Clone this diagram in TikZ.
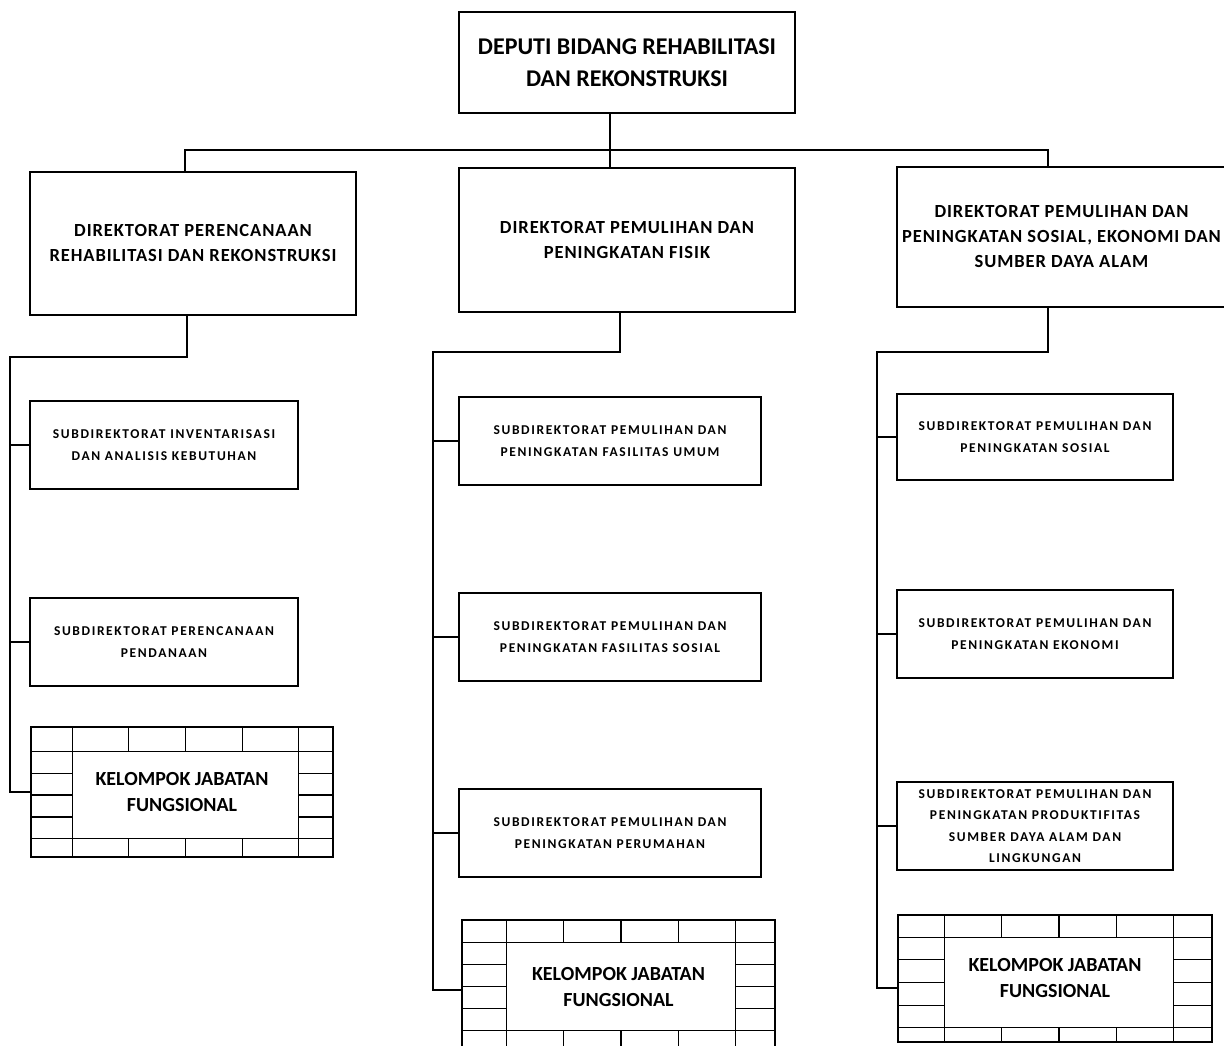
\documentclass[tikz,border=0pt]{standalone}
\usepackage{fontspec}
\setmainfont{Carlito}
\newfontfamily\dirfont[LetterSpace=5]{Carlito}
\newfontfamily\subfont[LetterSpace=12]{Carlito}
\usetikzlibrary{calc}
\tikzset{
  x=1pt, y=-1pt,
  orgbox/.style={draw, line width=1.8pt, align=center, inner sep=0pt, font=\bfseries},
  titlebox/.style={orgbox, font=\bfseries\fontsize{24}{32}\selectfont},
  dirbox/.style={orgbox, font=\dirfont\bfseries\fontsize{18.5}{25}\selectfont},
  subbox/.style={orgbox, line width=1.6pt, font=\subfont\bfseries\fontsize{13.5}{22}\selectfont},
  kjfbox/.style={orgbox, line width=1.8pt, font=\bfseries\fontsize{20}{26}\selectfont},
  conn/.style={line width=1.6pt},
  gridline/.style={line width=1.1pt}
}
\newcommand\kjfgrid[5]{%
  \coordinate (#1ITL) at ($(#1.north west)+(#2,#4)$);
  \coordinate (#1ITR) at ($(#1.north east)+(-#3,#4)$);
  \coordinate (#1IBL) at ($(#1.south west)+(#2,-#5)$);
  \coordinate (#1IBR) at ($(#1.south east)+(-#3,-#5)$);
  \draw[gridline] (#1ITL -| #1.west) -- (#1ITR -| #1.east);
  \draw[gridline] (#1IBL -| #1.west) -- (#1IBR -| #1.east);
  \draw[gridline] (#1ITL |- #1.north) -- (#1IBL |- #1.south);
  \draw[gridline] (#1ITR |- #1.north) -- (#1IBR |- #1.south);
  \foreach \k in {1,2,3}{
    \coordinate (#1t\k) at ($(#1ITL)!\k/4!(#1ITR)$);
    \coordinate (#1b\k) at ($(#1IBL)!\k/4!(#1IBR)$);
    \coordinate (#1l\k) at ($(#1ITL)!\k/4!(#1IBL)$);
    \coordinate (#1r\k) at ($(#1ITR)!\k/4!(#1IBR)$);
    \draw[gridline] (#1t\k) -- (#1t\k |- #1.north);
    \draw[gridline] (#1b\k) -- (#1b\k |- #1.south);
    \draw[gridline] (#1l\k) -- (#1l\k -| #1.west);
    \draw[gridline] (#1r\k) -- (#1r\k -| #1.east);
  }
}
\begin{document}
\begin{tikzpicture}
\useasboundingbox[fill=white] (0,0) rectangle (1224,1046);

% top
\node[titlebox, minimum width=336pt, minimum height=101pt] (top) at (627,62.5)
  {DEPUTI BIDANG REHABILITASI\\DAN REKONSTRUKSI};

% directors
\node[dirbox, minimum width=326pt, minimum height=143pt] (dl) at (193,243.5)
  {DIREKTORAT PERENCANAAN\\REHABILITASI DAN REKONSTRUKSI};
\node[dirbox, minimum width=336pt, minimum height=144pt] (dm) at (627,240)
  {DIREKTORAT PEMULIHAN DAN\\PENINGKATAN FISIK};
\node[dirbox, minimum width=329pt, minimum height=140pt] (dr) at (1061.5,237)
  {DIREKTORAT PEMULIHAN DAN\\PENINGKATAN SOSIAL, EKONOMI DAN\\SUMBER DAYA ALAM};

% bus
\coordinate (topout) at (610,113);
\coordinate (busm) at (610,150);
\coordinate (busl) at (185,150);
\coordinate (busr) at (1048,150);
\draw[conn] (topout) -- (busm) -- (busm |- dm.north);
\draw[conn] (busl |- dl.north) -- (busl) -- (busr) -- (busr |- dr.north);

% left column
\node[subbox, minimum width=268pt, minimum height=88pt] (l1) at (164,445)
  {SUBDIREKTORAT INVENTARISASI\\DAN ANALISIS KEBUTUHAN};
\node[subbox, minimum width=268pt, minimum height=88pt] (l2) at (164,642)
  {SUBDIREKTORAT PERENCANAAN\\PENDANAAN};
\node[kjfbox, minimum width=302pt, minimum height=130pt] (lk) at (182,792)
  {KELOMPOK JABATAN\\FUNGSIONAL};
\kjfgrid{lk}{42}{35}{25}{19}

\coordinate (ldrop) at (187,315);
\coordinate (lbend) at (187,357);
\coordinate (ltrunk) at (10,357);
\draw[conn] (ldrop) -- (lbend) -- (ltrunk) -- (ltrunk |- lk.west) -- (lk.west);
\draw[conn] (ltrunk |- l1.west) -- (l1.west);
\draw[conn] (ltrunk |- l2.west) -- (l2.west);

% middle column
\node[subbox, minimum width=302pt, minimum height=88pt] (m1) at (610,441)
  {SUBDIREKTORAT PEMULIHAN DAN\\PENINGKATAN FASILITAS UMUM};
\node[subbox, minimum width=302pt, minimum height=88pt] (m2) at (610,637)
  {SUBDIREKTORAT PEMULIHAN DAN\\PENINGKATAN FASILITAS SOSIAL};
\node[subbox, minimum width=302pt, minimum height=88pt] (m3) at (610,833)
  {SUBDIREKTORAT PEMULIHAN DAN\\PENINGKATAN PERUMAHAN};
\node[kjfbox, minimum width=313pt, minimum height=134pt] (mk) at (618.5,987)
  {KELOMPOK JABATAN\\FUNGSIONAL};
\kjfgrid{mk}{45}{40}{23}{24}

\coordinate (mdrop) at (620,312);
\coordinate (mbend) at (620,352);
\coordinate (mtrunk) at (433,352);
\coordinate (mkin) at (462,990);
\draw[conn] (mdrop) -- (mbend) -- (mtrunk) -- (mtrunk |- mkin) -- (mkin);
\draw[conn] (mtrunk |- m1.west) -- (m1.west);
\draw[conn] (mtrunk |- m2.west) -- (m2.west);
\draw[conn] (mtrunk |- m3.west) -- (m3.west);

% right column
\node[subbox, minimum width=276pt, minimum height=86pt] (r1) at (1035,437)
  {SUBDIREKTORAT PEMULIHAN DAN\\PENINGKATAN SOSIAL};
\node[subbox, minimum width=276pt, minimum height=88pt] (r2) at (1035,634)
  {SUBDIREKTORAT PEMULIHAN DAN\\PENINGKATAN EKONOMI};
\node[subbox, minimum width=276pt, minimum height=88pt,
      font=\subfont\bfseries\fontsize{13.5}{21.5}\selectfont] (r3) at (1035,826)
  {SUBDIREKTORAT PEMULIHAN DAN\\PENINGKATAN PRODUKTIFITAS\\SUMBER DAYA ALAM DAN\\LINGKUNGAN};
\node[kjfbox, minimum width=314pt, minimum height=127pt] (rk) at (1055,978.5)
  {KELOMPOK JABATAN\\FUNGSIONAL};
\kjfgrid{rk}{47}{39}{23}{15}

\coordinate (rdrop) at (1048,307);
\coordinate (rbend) at (1048,352);
\coordinate (rtrunk) at (877,352);
\coordinate (rkin) at (898,988);
\draw[conn] (rdrop) -- (rbend) -- (rtrunk) -- (rtrunk |- rkin) -- (rkin);
\draw[conn] (rtrunk |- r1.west) -- (r1.west);
\draw[conn] (rtrunk |- r2.west) -- (r2.west);
\draw[conn] (rtrunk |- r3.west) -- (r3.west);
\end{tikzpicture}
\end{document}
